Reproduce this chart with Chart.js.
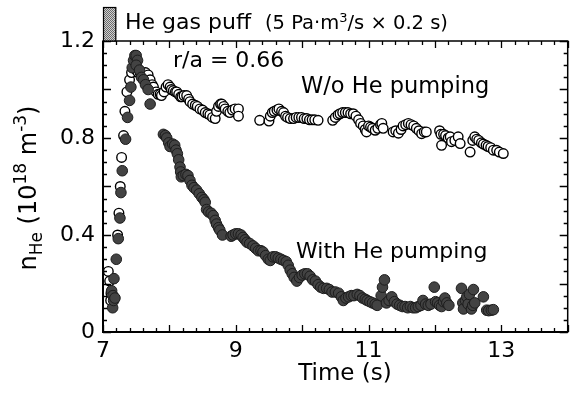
<!DOCTYPE html>
<html>
<head>
<meta charset="utf-8">
<script src="https://cdn.jsdelivr.net/npm/chart.js@4.4.0/dist/chart.umd.min.js"></script>
<style>
  html, body { margin: 0; padding: 0; background: #fff; }
  canvas { display: block; }
</style>
</head>
<body>
<canvas id="chart" width="574" height="394"></canvas>
<script>
// He density at r/a = 0.66 (time in s, n in 1e18 m^-3)
const tNoPump = [7.08, 7.10, 7.115, 7.12, 7.22, 7.24, 7.26, 7.28, 7.31, 7.33, 7.36, 7.40, 7.43, 7.46, 7.50,
  7.53, 7.56, 7.60, 7.64, 7.68, 7.71, 7.74, 7.76, 7.80, 7.83, 7.86, 7.88, 7.92, 7.95, 7.98,
  8.01, 8.03, 8.06, 8.09, 8.11, 8.14, 8.17, 8.19, 8.22, 8.26, 8.29, 8.31, 8.35, 8.39, 8.42,
  8.46, 8.50, 8.54, 8.58, 8.61, 8.65, 8.69, 8.71, 8.74, 8.77, 8.79, 8.82, 8.84, 8.88, 8.91,
  8.95, 8.99, 9.04, 9.04, 9.36, 9.50, 9.52, 9.55, 9.58, 9.62, 9.65, 9.69, 9.72, 9.75, 9.78,
  9.82, 9.87, 9.91, 9.95, 9.99, 10.03, 10.07, 10.11, 10.15, 10.19, 10.24, 10.46, 10.50, 10.54, 10.57,
  10.61, 10.65, 10.69, 10.73, 10.77, 10.81, 10.85, 10.88, 10.92, 10.95, 10.97, 11.00, 11.03, 11.06, 11.10,
  11.14, 11.18, 11.20, 11.22, 11.37, 11.41, 11.45, 11.49, 11.52, 11.56, 11.60, 11.64, 11.68, 11.72, 11.76,
  11.80, 11.84, 11.87, 12.07, 12.09, 12.10, 12.13, 12.16, 12.20, 12.23, 12.25, 12.30, 12.35, 12.38, 12.53,
  12.57, 12.60, 12.63, 12.66, 12.70, 12.73, 12.77, 12.80, 12.84, 12.88, 12.93, 12.97, 13.03];
const nNoPump = [0.25, 0.21, 0.13, 0.16, 0.40, 0.49, 0.60, 0.72, 0.81, 0.91, 0.99, 1.04, 1.07, 1.09, 1.08,
  1.07, 1.07, 1.06, 1.07, 1.06, 1.04, 1.02, 1.01, 0.99, 0.98, 0.98, 0.975, 0.99, 1.01, 1.02,
  1.01, 1.00, 0.995, 0.99, 0.99, 0.98, 0.97, 0.97, 0.975, 0.975, 0.96, 0.95, 0.94, 0.935, 0.93,
  0.92, 0.915, 0.905, 0.90, 0.895, 0.885, 0.88, 0.91, 0.93, 0.94, 0.94, 0.93, 0.92, 0.91, 0.905,
  0.915, 0.92, 0.92, 0.89, 0.873, 0.87, 0.89, 0.905, 0.91, 0.915, 0.92, 0.91, 0.905, 0.89, 0.885,
  0.88, 0.88, 0.885, 0.885, 0.885, 0.88, 0.88, 0.875, 0.875, 0.875, 0.873, 0.873, 0.885, 0.895, 0.90,
  0.905, 0.905, 0.905, 0.90, 0.90, 0.89, 0.875, 0.86, 0.85, 0.835, 0.825, 0.85, 0.845, 0.84, 0.832,
  0.84, 0.855, 0.86, 0.84, 0.825, 0.83, 0.82, 0.835, 0.85, 0.855, 0.86, 0.855, 0.85, 0.84, 0.83,
  0.818, 0.825, 0.825, 0.83, 0.815, 0.77, 0.815, 0.81, 0.80, 0.805, 0.785, 0.79, 0.805, 0.777, 0.742,
  0.79, 0.805, 0.795, 0.79, 0.78, 0.775, 0.77, 0.765, 0.76, 0.75, 0.749, 0.742, 0.736];

const tPump = [7.13, 7.145, 7.15, 7.16, 7.165, 7.18, 7.20, 7.23, 7.255, 7.27, 7.29, 7.34, 7.37, 7.40, 7.42,
  7.44, 7.46, 7.48, 7.50, 7.52, 7.50, 7.55, 7.58, 7.61, 7.64, 7.68, 7.71, 7.91, 7.94, 7.96,
  7.99, 8.01, 8.05, 8.08, 8.10, 8.12, 8.14, 8.16, 8.17, 8.18, 8.21, 8.25, 8.28, 8.31, 8.34,
  8.37, 8.41, 8.45, 8.49, 8.52, 8.54, 8.56, 8.59, 8.63, 8.66, 8.69, 8.71, 8.74, 8.76, 8.80,
  8.93, 8.96, 9.00, 9.04, 9.08, 9.11, 9.14, 9.17, 9.21, 9.26, 9.30, 9.34, 9.38, 9.41, 9.45,
  9.49, 9.52, 9.56, 9.60, 9.64, 9.68, 9.72, 9.76, 9.79, 9.82, 9.85, 9.88, 9.92, 9.96, 10.00,
  10.04, 10.08, 10.12, 10.16, 10.20, 10.24, 10.28, 10.32, 10.37, 10.41, 10.45, 10.50, 10.55, 10.59, 10.62,
  10.66, 10.70, 10.74, 10.78, 10.83, 10.87, 10.91, 10.95, 10.98, 11.02, 11.06, 11.10, 11.13, 11.19, 11.21,
  11.24, 11.27, 11.31, 11.35, 11.39, 11.43, 11.47, 11.51, 11.55, 11.59, 11.63, 11.67, 11.71, 11.75, 11.79,
  11.82, 11.86, 11.90, 11.94, 11.99, 12.01, 12.04, 12.07, 12.10, 12.13, 12.15, 12.18, 12.21, 12.40, 12.42,
  12.43, 12.46, 12.48, 12.50, 12.52, 12.55, 12.57, 12.58, 12.60, 12.73, 12.78, 12.81, 12.85, 12.88];
const nPump = [0.17, 0.10, 0.15, 0.13, 0.22, 0.14, 0.30, 0.385, 0.47, 0.575, 0.665, 0.795, 0.885, 0.955, 1.01,
  1.09, 1.12, 1.14, 1.14, 1.12, 1.10, 1.08, 1.05, 1.04, 1.02, 1.00, 0.94, 0.815, 0.81, 0.80,
  0.78, 0.765, 0.775, 0.77, 0.75, 0.735, 0.71, 0.68, 0.66, 0.64, 0.645, 0.65, 0.645, 0.625, 0.605,
  0.595, 0.585, 0.57, 0.555, 0.545, 0.535, 0.505, 0.495, 0.49, 0.48, 0.46, 0.445, 0.43, 0.42, 0.40,
  0.395, 0.40, 0.405, 0.405, 0.40, 0.39, 0.38, 0.37, 0.365, 0.355, 0.345, 0.335, 0.335, 0.33, 0.315,
  0.30, 0.295, 0.31, 0.31, 0.305, 0.30, 0.295, 0.29, 0.275, 0.255, 0.24, 0.225, 0.21, 0.225, 0.235,
  0.24, 0.24, 0.23, 0.215, 0.21, 0.195, 0.185, 0.18, 0.18, 0.175, 0.165, 0.165, 0.16, 0.145, 0.13,
  0.14, 0.145, 0.15, 0.15, 0.155, 0.15, 0.14, 0.135, 0.13, 0.125, 0.12, 0.115, 0.11, 0.15, 0.185,
  0.215, 0.12, 0.13, 0.145, 0.125, 0.115, 0.11, 0.105, 0.105, 0.10, 0.105, 0.10, 0.10, 0.105, 0.11,
  0.13, 0.115, 0.11, 0.115, 0.185, 0.125, 0.12, 0.11, 0.105, 0.125, 0.14, 0.12, 0.11, 0.18, 0.12,
  0.095, 0.13, 0.145, 0.115, 0.155, 0.095, 0.11, 0.175, 0.12, 0.145, 0.09, 0.088, 0.09, 0.092];

const xTickLabels = [7, 9, 11, 13];
const yTickLabels = [0, 0.4, 0.8, 1.2];
const puffStart = 7.0;   // s
const puffLength = 0.2;  // s

const FONT = "'DejaVu Sans', sans-serif";

function toPoints(ts, ns) {
  return ts.map((t, i) => ({ x: t, y: ns[i] }));
}

// stippled gray for the gas-puff bar
function makeStipple() {
  const c = document.createElement('canvas');
  c.width = 2; c.height = 2;
  const g = c.getContext('2d');
  g.fillStyle = '#d0d0d0'; g.fillRect(0, 0, 2, 2);
  g.fillStyle = '#6a6a6a'; g.fillRect(0, 0, 1, 1); g.fillRect(1, 1, 1, 1);
  return g.createPattern(c, 'repeat');
}

// draws text pieces in a row, with sub/superscripts
function drawRich(ctx, parts, x, y) {
  let cx = x;
  parts.forEach(p => {
    ctx.font = p.size + 'px ' + FONT;
    ctx.fillText(p.text, cx, y + (p.dy || 0));
    cx += ctx.measureText(p.text).width;
  });
  return cx - x;
}
function richWidth(ctx, parts) {
  let w = 0;
  parts.forEach(p => { ctx.font = p.size + 'px ' + FONT; w += ctx.measureText(p.text).width; });
  return w;
}

const framePlugin = {
  id: 'frame',
  afterDraw(chart) {
    const ctx = chart.ctx;
    const { left, right, top, bottom } = chart.chartArea;
    const xs = chart.scales.x, ys = chart.scales.y;
    ctx.save();
    ctx.strokeStyle = '#000';
    ctx.fillStyle = '#000';

    // minor / major ticks, pointing inward on all four sides
    ctx.lineWidth = 1.3;
    ctx.beginPath();
    for (let i = 0; i <= 35; i++) {
      const px = Math.round(xs.getPixelForValue(7 + i * 0.2)) + 0.5;
      const len = i % 5 === 0 ? 7 : 4;
      ctx.moveTo(px, bottom); ctx.lineTo(px, bottom - len);
      ctx.moveTo(px, top); ctx.lineTo(px, top + len);
    }
    for (let i = 0; i <= 24; i++) {
      const py = Math.round(ys.getPixelForValue(i * 0.05)) + 0.5;
      const len = i % 4 === 0 ? 8 : 4;
      ctx.moveTo(left, py); ctx.lineTo(left + len, py);
      ctx.moveTo(right, py); ctx.lineTo(right - len, py);
    }
    ctx.stroke();

    // frame
    ctx.lineWidth = 1.5;
    ctx.strokeRect(left, top, right - left, bottom - top);
    ctx.lineWidth = 2;
    ctx.beginPath();
    ctx.moveTo(left, top); ctx.lineTo(left, bottom); ctx.lineTo(right, bottom);
    ctx.stroke();

    // gas puff bar
    const p0 = xs.getPixelForValue(puffStart);
    const p1 = xs.getPixelForValue(puffStart + puffLength);
    ctx.fillStyle = makeStipple();
    ctx.fillRect(p0, 7, p1 - p0, top - 7);
    ctx.lineWidth = 1.2;
    ctx.strokeRect(p0 + 0.5, 7.5, p1 - p0 - 1, top - 7.5);

    ctx.fillStyle = '#000';
    ctx.textBaseline = 'alphabetic';
    ctx.textAlign = 'left';
    ctx.font = '22px ' + FONT;
    ctx.fillText('He gas puff', 125, 29);
    drawRich(ctx, [
      { text: '(5 Pa\u00b7m', size: 19.5 },
      { text: '3', size: 13, dy: -7 },
      { text: '/s \u00d7 0.2 s)', size: 19.5 }
    ], 265, 29);

    ctx.font = '22px ' + FONT;
    ctx.fillText('r/a = 0.66', 173, 67);
    ctx.font = '22.5px ' + FONT;
    ctx.fillText('W/o He pumping', 301, 93);
    ctx.font = '22px ' + FONT;
    ctx.fillText('With He pumping', 296, 258);

    // axis titles
    ctx.textAlign = 'center';
    ctx.font = '23px ' + FONT;
    ctx.fillText('Time (s)', 345, 380);

    const yTitle = [
      { text: 'n', size: 24 },
      { text: 'He', size: 17, dy: 6 },
      { text: ' (10', size: 24 },
      { text: '18', size: 17, dy: -10 },
      { text: ' m', size: 24 },
      { text: '-3', size: 17, dy: -10 },
      { text: ')', size: 24 }
    ];
    ctx.textAlign = 'left';
    ctx.translate(36, 188);
    ctx.rotate(-Math.PI / 2);
    const w = richWidth(ctx, yTitle);
    drawRich(ctx, yTitle, -w / 2, 0);
    ctx.restore();
  }
};

Chart.defaults.font.family = FONT;
Chart.defaults.color = '#000';

new Chart(document.getElementById('chart'), {
  type: 'scatter',
  data: {
    datasets: [
      {
        label: 'With He pumping',
        data: toPoints(tPump, nPump),
        backgroundColor: '#434343',
        borderColor: '#1c1c1c',
        borderWidth: 1,
        pointRadius: 5.3,
        order: 1
      },
      {
        label: 'W/o He pumping',
        data: toPoints(tNoPump, nNoPump),
        backgroundColor: '#fff',
        borderColor: '#000',
        borderWidth: 1.4,
        pointRadius: 4.8,
        order: 2
      }
    ]
  },
  options: {
    responsive: false,
    animation: false,
    layout: { padding: { top: 41, right: 6, left: 0, bottom: 0 } },
    plugins: { legend: { display: false }, tooltip: { enabled: false } },
    scales: {
      x: {
        type: 'linear',
        min: 7,
        max: 14,
        grid: { display: false, drawTicks: false },
        border: { display: false },
        afterBuildTicks: s => { s.ticks = xTickLabels.map(v => ({ value: v })); },
        afterFit: s => { s.height = 62; },
        ticks: { font: { size: 22 }, padding: 6, maxRotation: 0, autoSkip: false }
      },
      y: {
        min: 0,
        max: 1.2,
        grid: { display: false, drawTicks: false },
        border: { display: false },
        afterBuildTicks: s => { s.ticks = yTickLabels.map(v => ({ value: v })); },
        afterFit: s => { s.width = 103; },
        ticks: {
          font: { size: 22 },
          padding: 8,
          callback: v => (v === 0 ? '0' : v.toFixed(1))
        }
      }
    }
  },
  plugins: [framePlugin]
});
</script>
</body>
</html>
